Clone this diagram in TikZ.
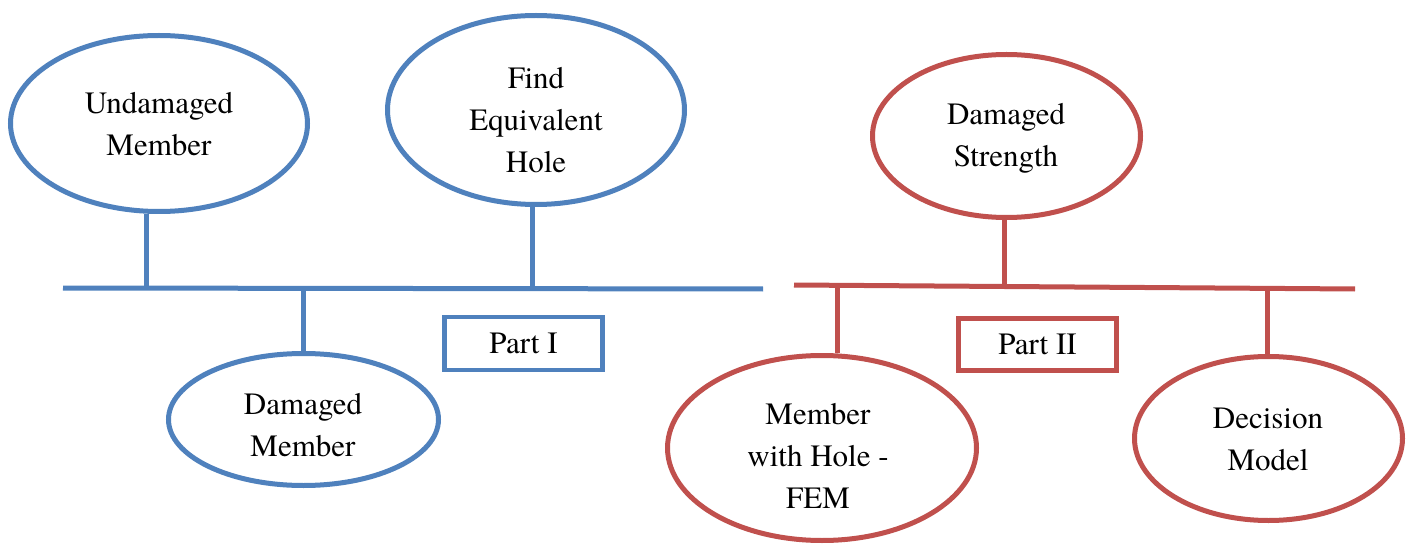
\documentclass[tikz,border=0pt]{standalone}
\usepackage{fontspec}
\setmainfont{texgyretermes}[Extension=.otf, UprightFont=*-regular, BoldFont=*-bold, ItalicFont=*-italic, BoldItalicFont=*-bolditalic]
\usetikzlibrary{shapes.geometric}
\definecolor{pblue}{HTML}{4F81BD}
\definecolor{pred}{HTML}{C0504D}
\begin{document}
\begin{tikzpicture}[x=1pt,y=-1pt,
  oval/.style={ellipse, draw, line width=5pt, inner sep=0pt, fill=white},
  txt/.style={align=center, inner sep=0pt, font=\fontsize{31}{42}\selectfont},
  partbox/.style={rectangle, draw, line width=4.5pt, inner sep=0pt, font=\fontsize{31}{42}\selectfont},
  bluec/.style={draw=pblue},
  redc/.style={draw=pred},
  barline/.style={line width=5pt}]
\useasboundingbox (0,0) rectangle (1414,548);

% ---------- Part I (blue) ----------
\coordinate (bl) at (63,288);
\coordinate (br) at (763,289);
\coordinate (j1) at (146,288);
\coordinate (j2) at (532,288);
\coordinate (j3) at (303,289);

\node[oval, bluec, minimum width=297pt, minimum height=176pt] (undam) at (159,123.5) {};
\node[oval, bluec, minimum width=297pt, minimum height=189pt] (find) at (536,110) {};
\node[oval, bluec, minimum width=270pt, minimum height=132pt] (dmem) at (303.5,419.5) {};

\draw[barline, pblue] (bl) -- (br);
\draw[barline, pblue] (undam.south -| j1) -- (j1);
\draw[barline, pblue] (find.south -| j2) -- (j2);
\draw[barline, pblue] (j3) -- (dmem.north -| j3);

\node[txt] (undamt) at (159,124) {Undamaged\\Member};
\node[txt] (findt) at (536,120) {Find\\Equivalent\\Hole};
\node[txt] (dmemt) at (303,425) {Damaged\\Member};

\node[partbox, bluec, minimum width=158pt, minimum height=53pt] (p1) at (523.5,343.5) {Part I};

% ---------- Part II (red) ----------
\coordinate (rl) at (794,285);
\coordinate (rr) at (1355,289);
\coordinate (k1) at (1004,286.5);
\coordinate (k2) at (837,286);
\coordinate (k3) at (1267,288.5);

\node[oval, redc, minimum width=268pt, minimum height=163pt] (dstr) at (1006.5,136) {};
\node[oval, redc, minimum width=309pt, minimum height=185pt] (fem) at (822,448) {};
\node[oval, redc, minimum width=268pt, minimum height=164pt] (dec) at (1268.5,438.5) {};

\draw[barline, pred] (rl) -- (rr);
\draw[barline, pred] (dstr.south -| k1) -- (k1);
\draw[barline, pred] (k2) -- (fem.north -| k2);
\draw[barline, pred] (k3) -- (dec.north -| k3);

\node[txt] (dstrt) at (1006,138) {Damaged\\Strength};
\node[txt] (femt) at (818,456) {Member\\with Hole -\\FEM};
\node[txt] (dect) at (1268,439) {Decision\\Model};

\node[partbox, redc, minimum width=158pt, minimum height=52pt] (p2) at (1037.5,344.5) {Part II};
\end{tikzpicture}
\end{document}
